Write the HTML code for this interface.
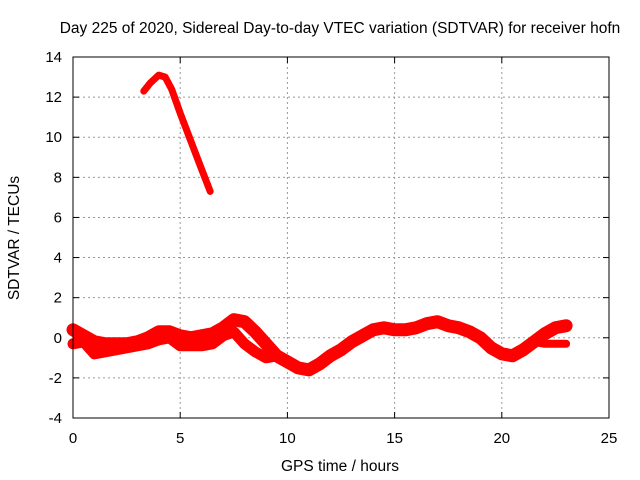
<!DOCTYPE html>
<html><head><meta charset="utf-8"><style>
body{margin:0;background:#fff}
svg{display:block;font-family:"Liberation Sans",sans-serif}
</style></head><body>
<svg id="c" width="640" height="480">
<text x="340" y="33" font-size="15.5" text-anchor="middle">Day 225 of 2020, Sidereal Day-to-day VTEC variation (SDTVAR) for receiver hofn</text>
<text x="340" y="471" font-size="15.5" text-anchor="middle">GPS time / hours</text>
<text transform="translate(19,238) rotate(-90)" font-size="15.5" text-anchor="middle">SDTVAR / TECUs</text>
<g id="grid"></g><g id="marks"></g>
<rect x="73" y="57" width="536" height="361" fill="none" stroke="#000" stroke-width="1"/>
</svg>
<script>
const xTicks=[0,5,10,15,20,25];
const yTicks=[-4,-2,0,2,4,6,8,10,12,14];
const arcT=[3.3,3.6,4.0,4.3,4.6,5.0,5.5,6.0,6.4];
const arcV=[12.3,12.7,13.1,13.0,12.4,11.2,9.8,8.4,7.3];
const trackAT=[0,0.5,1,1.5,2,2.5,3,3.5,4,4.5,5,5.5,6,6.5,7,7.5,8,8.5,9,9.5,10,10.5,11,11.5,12,12.5,13,13.5,14,14.5,15,15.5,16,16.5,17,17.5,18,18.5,19,19.5,20,20.5,21,21.5,22,22.5,23];
const trackAV=[0.4,0.1,-0.2,-0.3,-0.3,-0.3,-0.2,0.0,0.3,0.3,0.1,0.0,0.1,0.2,0.5,0.9,0.8,0.3,-0.3,-0.9,-1.2,-1.5,-1.6,-1.3,-0.9,-0.6,-0.2,0.1,0.4,0.5,0.4,0.4,0.5,0.7,0.8,0.6,0.5,0.3,0.0,-0.5,-0.8,-0.9,-0.6,-0.2,0.2,0.5,0.6];
const trackBT=[0,0.5,1,1.5,2,2.5,3,3.5,4,4.5,5,5.5,6,6.5,7,7.5,8,8.5,9,9.5];
const trackBV=[-0.3,-0.2,-0.8,-0.7,-0.6,-0.5,-0.4,-0.3,-0.1,0.0,-0.4,-0.4,-0.4,-0.3,0.1,0.3,-0.3,-0.7,-1.0,-0.9];
const trackCT=[21.5,22,22.5,23];
const trackCV=[-0.2,-0.3,-0.3,-0.3];
const X=t=>73+t*536/25, Y=v=>57+(14-v)*361/18;
const ns="http://www.w3.org/2000/svg";
const g=document.getElementById('grid'), m=document.getElementById('marks');
function el(p,tag,a){const e=document.createElementNS(ns,tag);for(const k in a)e.setAttribute(k,a[k]);p.appendChild(e);return e;}
xTicks.forEach(t=>{const x=X(t);
 if(t>0&&t<25){const l=el(g,'line',{x1:x,x2:x,y1:57,y2:418,stroke:'#999','stroke-dasharray':'2,3'});
 
 }
 el(g,'line',{x1:x,x2:x,y1:418,y2:412,stroke:'#000'});el(g,'line',{x1:x,x2:x,y1:57,y2:63,stroke:'#000'});
 const tx=el(g,'text',{x:x,y:443,'font-size':15,'text-anchor':'middle'});tx.textContent=t;
 
 });
yTicks.forEach(v=>{const y=Y(v);
 if(v>-4&&v<14){const l=el(g,'line',{x1:73,x2:609,y1:y,y2:y,stroke:'#999','stroke-dasharray':'2,3'});
 
 }
 el(g,'line',{x1:73,x2:79,y1:y,y2:y,stroke:'#000'});el(g,'line',{x1:609,x2:603,y1:y,y2:y,stroke:'#000'});
 const tx=el(g,'text',{x:62,y:y+5,'font-size':15,'text-anchor':'end'});tx.textContent=v;
 
 });
function series(T,V,w,name){const pts=T.map((t,i)=>X(t).toFixed(1)+','+Y(V[i]).toFixed(1)).join(' ');
 const p=el(m,'polyline',{points:pts,fill:'none',stroke:'#f00','stroke-width':w,'stroke-linejoin':'round','stroke-linecap':'round'});
 
 }
series(arcT,arcV,7,'series-high-arc');
series(trackAT,trackAV,13,'series-track-a');
series(trackBT,trackBV,11,'series-track-b');
series(trackCT,trackCV,8,'series-track-c');
</script>
</body></html>
